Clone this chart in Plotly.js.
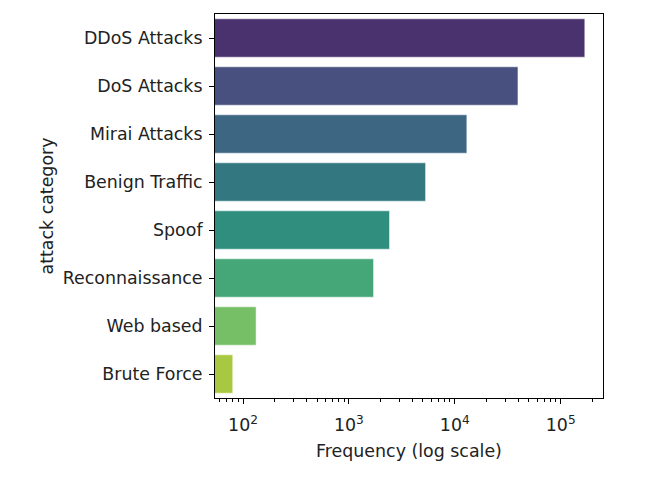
<!DOCTYPE html>
<html>
<head>
<meta charset="utf-8">
<script src="https://cdn.plot.ly/plotly-3.0.1.min.js"></script>
<style>html,body{margin:0;padding:0;background:#fff;}#chart{width:652px;height:482px;}</style>
</head>
<body>
<div id="chart"></div>
<script>
const categories = ["DDoS Attacks", "DoS Attacks", "Mirai Attacks", "Benign Traffic", "Spoof", "Reconnaissance", "Web based", "Brute Force"];
const frequencies = [169000, 39500, 13000, 5300, 2420, 1710, 133, 80];
const tickValues = [100, 1000, 10000, 100000];
const tickLabels = ["10<sup>2</sup>", "10<sup>3</sup>", "10<sup>4</sup>", "10<sup>5</sup>"];

const barColors = ["#4a326e", "#47507f", "#3d6682", "#337881", "#2f8e7e", "#45a778", "#77bf67", "#a9c841"];

const font = {family: "DejaVu Sans, sans-serif", size: 17.4, color: "#222"};

Plotly.newPlot("chart", [{
  type: "bar",
  orientation: "h",
  x: frequencies,
  y: categories,
  marker: {color: barColors, line: {color: "rgba(255,255,255,0.5)", width: 1}},
  hoverinfo: "x+y"
}], {
  width: 652, height: 482,
  margin: {l: 215, r: 49, t: 14, b: 84},
  paper_bgcolor: "#fff", plot_bgcolor: "#fff",
  bargap: 0.2,
  showlegend: false,
  font: font,
  xaxis: {
    type: "log",
    range: [Math.log10(54.4), Math.log10(251000)],
    tickvals: tickValues,
    ticktext: tickLabels,
    showgrid: false, zeroline: false,
    showline: true, linecolor: "#000", linewidth: 1, mirror: true,
    ticks: "outside", ticklen: 5, tickcolor: "#000", tickwidth: 1,
    ticklabelstandoff: 6,
    minor: {ticks: "outside", ticklen: 3, tickcolor: "#000", tickwidth: 1, dtick: "D1", showgrid: false},
    tickfont: font,
    title: {text: "Frequency (log scale)", font: font, standoff: 10}
  },
  yaxis: {
    type: "category",
    autorange: "reversed",
    showgrid: false, zeroline: false,
    showline: true, linecolor: "#000", linewidth: 1, mirror: true,
    ticks: "outside", ticklen: 5, tickcolor: "#000", tickwidth: 1,
    ticklabelstandoff: 3,
    tickfont: font,
    title: {text: "attack category", font: font, standoff: 4}
  }
}, {displayModeBar: false, staticPlot: true});
</script>
</body>
</html>
